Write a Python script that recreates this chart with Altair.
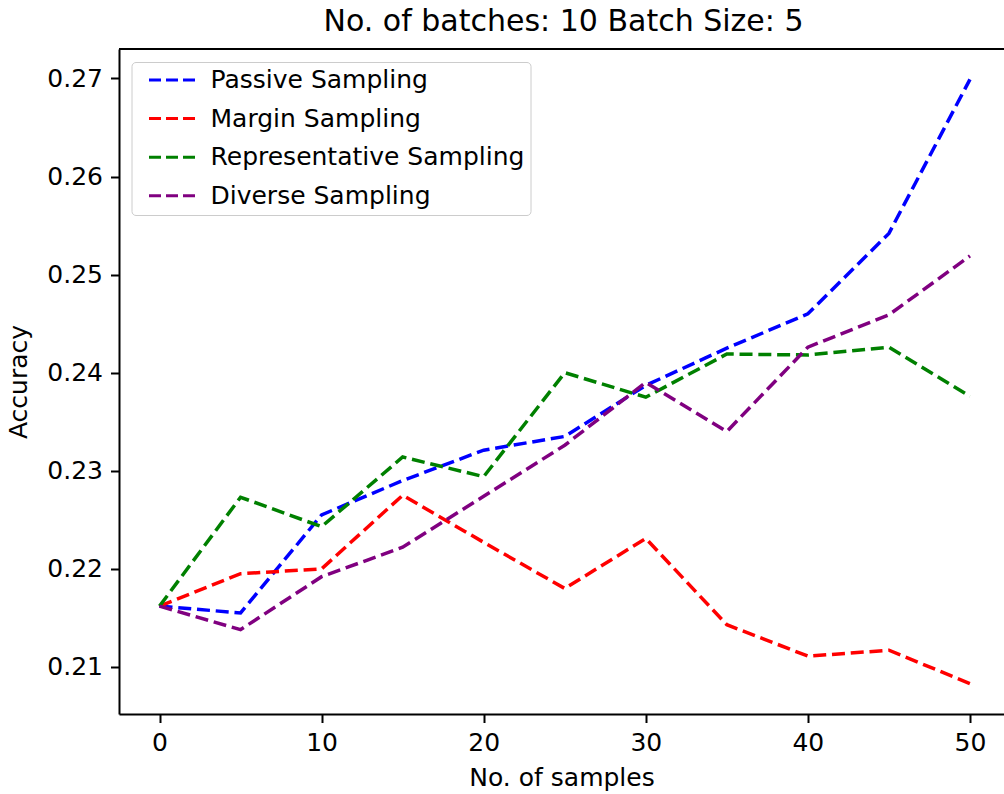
import altair as alt
import pandas as pd

samples = [0, 5, 10, 15, 20, 25, 30, 35, 40, 45, 50]
passive = [0.2162, 0.2155, 0.2255, 0.2290, 0.2321, 0.2335, 0.2387, 0.2425, 0.2460, 0.2542, 0.2699]
margin = [0.2162, 0.2195, 0.2200, 0.2275, 0.2227, 0.2180, 0.2231, 0.2143, 0.2111, 0.2117, 0.2083]
representative = [0.2162, 0.2273, 0.2243, 0.2314, 0.2294, 0.2400, 0.2375, 0.2419, 0.2418, 0.2426, 0.2376]
diverse = [0.2162, 0.2138, 0.2192, 0.2222, 0.2274, 0.2326, 0.2390, 0.2340, 0.2426, 0.2459, 0.2519]

series_names = ["Passive Sampling", "Margin Sampling", "Representative Sampling", "Diverse Sampling"]
series_colors = ["#0000ff", "#ff0000", "#008000", "#800080"]
x_ticks = [0, 10, 20, 30, 40, 50]
y_ticks = [0.21, 0.22, 0.23, 0.24, 0.25, 0.26, 0.27]

rows = []
for name, vals in zip(series_names, [passive, margin, representative, diverse]):
    for i, (x, v) in enumerate(zip(samples, vals)):
        rows.append({"samples": x, "accuracy": v, "method": name, "idx": i})
df = pd.DataFrame(rows)

W, H = 885, 665
FONT = "DejaVu Sans"

lines = alt.Chart(df).mark_line(strokeDash=[13, 5.8], strokeWidth=3.5, clip=True).encode(
    x=alt.X("samples:Q",
            scale=alt.Scale(domain=[-2.5, 52.1], nice=False, zero=False),
            axis=alt.Axis(values=x_ticks, title="No. of samples", format="d",
                          labelPadding=8, titlePadding=10)),
    y=alt.Y("accuracy:Q",
            scale=alt.Scale(domain=[0.2052, 0.2730], nice=False, zero=False),
            axis=alt.Axis(values=y_ticks, format=".2f", title="Accuracy",
                          labelPadding=8, titlePadding=15)),
    color=alt.Color("method:N",
                    scale=alt.Scale(domain=series_names, range=series_colors),
                    legend=alt.Legend(title=None, orient="none", legendX=12.5, legendY=13,
                                      symbolType="stroke", symbolSize=2116,
                                      symbolStrokeWidth=3, symbolDash=[12, 5],
                                      symbolOffset=10, labelOffset=14, labelLimit=500,
                                      clipHeight=24, rowPadding=13.6, padding=6,
                                      labelFontSize=25, labelFont=FONT, labelColor="black",
                                      strokeColor="#cccccc", cornerRadius=4,
                                      fillColor="rgba(255,255,255,0.8)")),
    detail="method:N",
    order="idx:Q",
)

top_border = alt.Chart(pd.DataFrame({"k": [0]})).mark_rule(color="black", strokeWidth=2).encode(
    x=alt.value(0), x2=alt.value(W), y=alt.value(0)
)

chart = alt.layer(lines, top_border).properties(
    width=W, height=H,
    title=alt.TitleParams("No. of batches: 10 Batch Size: 5", fontSize=30, font=FONT,
                          fontWeight="normal", color="black", baseline="alphabetic",
                          offset=17.5, dx=2, dy=30.5, anchor="middle"),
    autosize=alt.AutoSizeParams(type="none"),
    padding={"left": 119, "top": 49, "right": 0, "bottom": 80},
).configure_view(stroke=None).configure_axis(
    grid=False, domainColor="black", domainWidth=2, tickColor="black", tickWidth=2,
    tickSize=8.5, labelFontSize=25, labelFont=FONT, labelColor="black",
    titleFontSize=25, titleFont=FONT, titleColor="black", titleFontWeight="normal",
)

chart.save("out.html", embed_options={"renderer": "svg", "actions": False})
